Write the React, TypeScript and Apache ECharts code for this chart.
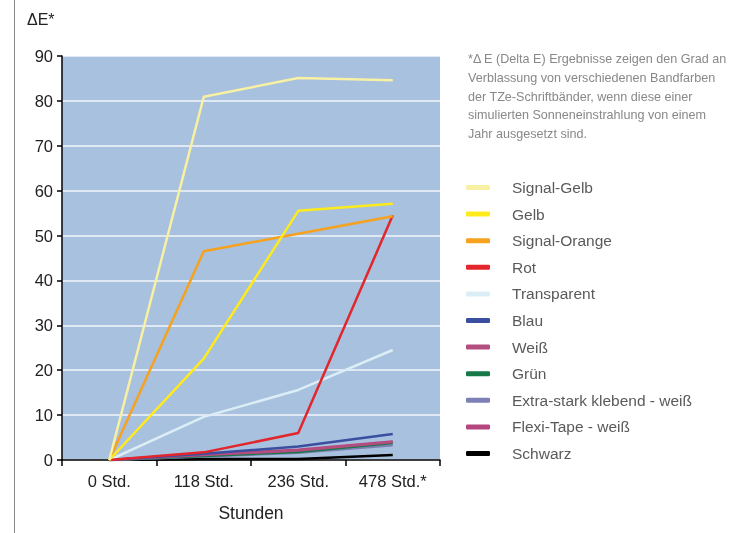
import React, { useEffect, useRef } from "react";
import * as echarts from "echarts";

const categories = ["0 Std.", "118 Std.", "236 Std.", "478 Std.*"];
const seriesNames = [
  "Signal-Gelb",
  "Gelb",
  "Signal-Orange",
  "Rot",
  "Transparent",
  "Blau",
  "Weiß",
  "Grün",
  "Extra-stark klebend - weiß",
  "Flexi-Tape - weiß",
  "Schwarz",
];
const signalGelb = [0, 80.9, 85.1, 84.6];
const gelb = [0, 22.6, 55.5, 57.1];
const signalOrange = [0, 46.5, 50.4, 54.3];
const rot = [0, 1.7, 6.0, 54.5];
const transparent = [0, 9.6, 15.6, 24.5];
const blau = [0, 1.4, 3.0, 5.8];
const weiss = [0, 1.1, 2.1, 4.0];
const gruen = [0, 0.9, 1.8, 3.8];
const extraStark = [0, 0.8, 1.6, 3.3];
const flexiTape = [0, 1.2, 2.3, 4.1];
const schwarz = [0, 0.2, 0.2, 1.1];
const seriesValues = [
  signalGelb,
  gelb,
  signalOrange,
  rot,
  transparent,
  blau,
  weiss,
  gruen,
  extraStark,
  flexiTape,
  schwarz,
];
const colors = [
  "#f8f0a2",
  "#ffea1c",
  "#f7a21e",
  "#e2262b",
  "#dbeef6",
  "#3a4fa0",
  "#b44d80",
  "#17784a",
  "#7e7fb5",
  "#b4467e",
  "#000000",
];
const noteText =
  "*Δ E (Delta E) Ergebnisse zeigen den Grad an\nVerblassung von verschiedenen Bandfarben\nder TZe-Schriftbänder, wenn diese einer\nsimulierten Sonneneinstrahlung von einem\nJahr ausgesetzt sind.";

const FONT = "'Liberation Sans', Arial, Helvetica, sans-serif";

export default function App() {
  const ref = useRef<HTMLDivElement>(null);
  useEffect(() => {
    if (!ref.current) return;
    const chart = echarts.init(ref.current, null, { renderer: "svg" });
    chart.setOption({
      animation: false,
      textStyle: { fontFamily: FONT },
      grid: {
        left: 62,
        right: 301,
        top: 56,
        bottom: 73,
        show: true,
        backgroundColor: "#a7c1de",
        borderWidth: 0,
      },
      xAxis: {
        type: "category",
        data: categories,
        boundaryGap: true,
        name: "Stunden",
        nameLocation: "middle",
        nameGap: 44,
        nameTextStyle: { fontSize: 17.5, color: "#222", fontFamily: FONT },
        axisLine: { lineStyle: { color: "#000", width: 1.5 } },
        axisTick: { show: true, length: 6, lineStyle: { color: "#000", width: 1.5 } },
        axisLabel: { fontSize: 16.5, color: "#222", margin: 12, fontFamily: FONT },
      },
      yAxis: {
        type: "value",
        min: 0,
        max: 90,
        interval: 10,
        axisLine: { show: true, lineStyle: { color: "#000", width: 1.5 } },
        axisTick: { show: true, length: 5, lineStyle: { color: "#000", width: 1.5 } },
        axisLabel: { fontSize: 16.5, color: "#222", margin: 9, fontFamily: FONT },
        splitLine: { show: true, lineStyle: { color: "#ffffff", width: 1.5, opacity: 0.85 } },
      },
      legend: {
        orient: "vertical",
        left: 461,
        top: 174,
        icon: "roundRect",
        itemWidth: 24,
        itemHeight: 5,
        itemGap: 9.6,
        data: seriesNames,
        textStyle: {
          fontSize: 15.5,
          color: "#5a5a5a",
          lineHeight: 17,
          padding: [0, 0, 0, 17],
          fontFamily: FONT,
        },
      },
      graphic: [
        {
          type: "line",
          shape: { x1: 14.5, y1: 0, x2: 14.5, y2: 533 },
          style: { stroke: "#888", lineWidth: 1 },
        },
        {
          type: "text",
          left: 27,
          top: 11,
          style: { text: "ΔE*", fontSize: 16, fill: "#222", fontFamily: FONT },
        },
        {
          type: "text",
          left: 468,
          top: 50,
          style: {
            text: noteText,
            fontSize: 12.6,
            lineHeight: 18.7,
            fill: "#888",
            fontFamily: FONT,
          },
        },
      ],
      series: seriesNames.map((name, i) => ({
        name,
        type: "line",
        data: seriesValues[i],
        showSymbol: false,
        symbol: "none",
        color: colors[i],
        lineStyle: { width: 2.5, color: colors[i] },
        z: 20 - i,
      })),
    });
    return () => chart.dispose();
  }, []);
  return (
    <div
      ref={ref}
      style={{ position: "fixed", left: 0, top: 0, width: 741, height: 533 }}
    />
  );
}
